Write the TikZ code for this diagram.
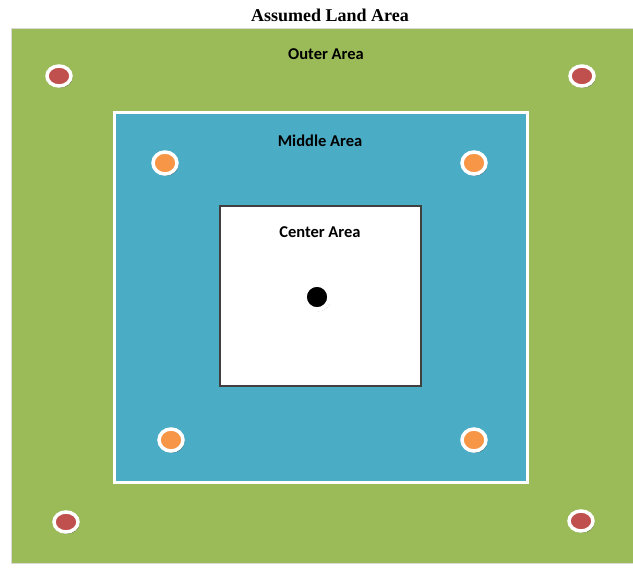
\documentclass[tikz,border=0pt]{standalone}
\usepackage{fontspec}
\setmainfont{Liberation Serif}
\newfontfamily\labelfont{Carlito}
\usetikzlibrary{shapes.geometric, shadows}

\definecolor{outergreen}{HTML}{9BBB59}
\definecolor{middleblue}{HTML}{4BACC6}
\definecolor{dotred}{HTML}{C0504D}
\definecolor{dotorange}{HTML}{F79646}

\begin{document}
\begin{tikzpicture}[
    x=1pt, y=-1pt,
    area/.style={font=\labelfont\fontsize{16.5}{18}\selectfont\bfseries},
    dot/.style={ellipse, draw=white, line width=3.5pt, inner sep=0pt, drop shadow={shadow xshift=1.4pt, shadow yshift=-1.8pt, opacity=.6, fill=black!75}},
    reddot/.style={dot, fill=dotred, minimum width=24pt, minimum height=20pt},
    orangedot/.style={dot, fill=dotorange, minimum width=24pt, minimum height=22pt},
    blackdot/.style={dot, fill=black, line width=4.5pt, minimum width=25pt, minimum height=25pt},
]
    \useasboundingbox (0,0) rectangle (633,568);

    % areas
    \draw[draw=black!15, fill=outergreen] (11,28) rectangle (640,563);
    \draw[draw=white, line width=3pt, fill=middleblue] (114.5,112.5) rectangle (527.5,482.5);
    \draw[draw=black!75, line width=1.3pt, fill=white] (220,206) rectangle (421,386);

    \node[font=\fontsize{18}{20}\selectfont\bfseries] (title) at (330,15) {Assumed Land Area};
    \node[area] (outer) at (326,54) {Outer Area};
    \node[area] (middle) at (320,141) {Middle Area};
    \node[area] (center) at (320,232) {Center Area};

    % red dots
    \node[reddot] (r1) at (59,76) {};
    \node[reddot] (r2) at (582,76) {};
    \node[reddot] (r3) at (66,522) {};
    \node[reddot] (r4) at (581,521) {};

    % orange dots
    \node[orangedot] (o1) at (165,163) {};
    \node[orangedot] (o2) at (474,163) {};
    \node[orangedot] (o3) at (171,440) {};
    \node[orangedot] (o4) at (474,440) {};

    \node[blackdot] (c) at (317,297) {};
\end{tikzpicture}
\end{document}
